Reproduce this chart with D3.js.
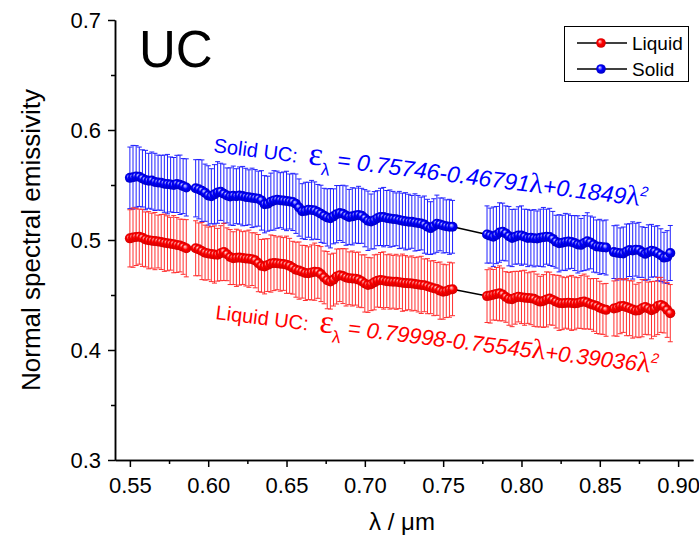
<!DOCTYPE html>
<html><head><meta charset="utf-8">
<script src="https://cdn.jsdelivr.net/npm/d3@7"></script>
<style>body{margin:0;background:#fff}svg{display:block}text{font-family:"Liberation Sans",Arial,sans-serif}</style>
</head><body>
<svg id="c" width="699" height="547"></svg>
<script>
// wavelength (µm), four measurement segments
const wl1 = [0.550,0.552,0.554,0.556,0.558,0.560,0.562,0.564,0.566,0.568,0.570,0.572,0.574,0.576,0.578,0.580,0.582,0.584,0.586];
const wl2 = [0.592,0.594,0.596,0.598,0.600,0.602,0.604,0.606,0.608,0.610,
 0.612,0.614,0.616,0.618,0.620,0.622,0.624,0.626,0.628,0.630,
 0.632,0.634,0.636,0.638,0.640,0.642,0.644,0.646,0.648,0.650,
 0.652,0.654,0.656,0.658,0.660,0.662,0.664,0.666,0.668,0.670,
 0.672,0.674,0.676,0.678,0.680,0.682,0.684,0.686,0.688,0.690,
 0.692,0.694,0.696,0.698,0.700,0.702,0.704,0.706,0.708,0.710,
 0.712,0.714,0.716,0.718,0.720,0.722,0.724,0.726,0.728,0.730,
 0.732,0.734,0.736,0.738,0.740,0.742,0.744,0.746,0.748,0.750,
 0.752,0.754,0.756];
const wl3 = [0.778,0.780,0.782,0.784,0.786,0.788,0.790,0.792,0.794,0.796,
 0.798,0.800,0.802,0.804,0.806,0.808,0.810,0.812,0.814,0.816,
 0.818,0.820,0.822,0.824,0.826,0.828,0.830,0.832,0.834,0.836,
 0.838,0.840,0.842,0.844,0.846,0.848,0.850,0.852,0.854];
const wl4 = [0.859,0.861,0.863,0.865,0.867,0.869,0.871,0.873,0.875,0.877,
 0.879,0.881,0.883,0.885,0.887,0.889,0.891,0.893,0.895];

// Solid UC emissivity
const solid1 = [0.5565,0.5570,0.5578,0.5575,0.5560,0.5545,0.5538,0.5540,0.5528,0.5522,0.5520,0.5512,0.5508,0.5505,0.5500,0.5510,0.5502,0.5490,0.5478];
const solid2 = [0.5470,0.5462,0.5448,0.5430,0.5405,0.5398,0.5415,0.5432,0.5438,0.5420,
 0.5405,0.5396,0.5402,0.5398,0.5404,0.5399,0.5392,0.5388,0.5383,0.5380,
 0.5376,0.5360,0.5325,0.5330,0.5348,0.5360,0.5366,0.5362,0.5358,0.5355,
 0.5350,0.5346,0.5330,0.5295,0.5262,0.5265,0.5275,0.5272,0.5268,0.5255,
 0.5238,0.5220,0.5205,0.5198,0.5215,0.5235,0.5245,0.5238,0.5222,0.5210,
 0.5215,0.5222,0.5228,0.5220,0.5198,0.5175,0.5168,0.5180,0.5198,0.5210,
 0.5208,0.5200,0.5195,0.5192,0.5188,0.5182,0.5176,0.5170,0.5166,0.5165,
 0.5160,0.5155,0.5150,0.5140,0.5120,0.5108,0.5125,0.5148,0.5142,0.5132,
 0.5125,0.5120,0.5120];
const solid3 = [0.5050,0.5040,0.5030,0.5045,0.5068,0.5075,0.5060,0.5035,0.5018,0.5030,
 0.5042,0.5040,0.5030,0.5018,0.5020,0.5016,0.5014,0.5020,0.5026,0.5030,
 0.5028,0.5010,0.4985,0.4970,0.4975,0.4982,0.4986,0.4982,0.4972,0.4960,
 0.4956,0.4972,0.4988,0.4978,0.4958,0.4942,0.4938,0.4935,0.4932];
const solid4 = [0.4890,0.4885,0.4880,0.4878,0.4895,0.4908,0.4905,0.4912,0.4910,0.4890,
 0.4874,0.4888,0.4902,0.4895,0.4880,0.4862,0.4840,0.4845,0.4882];

// Liquid UC emissivity
const liquid1 = [0.5015,0.5022,0.5028,0.5030,0.5020,0.5005,0.4998,0.4994,0.4990,0.4986,0.4982,0.4975,0.4970,0.4966,0.4962,0.4955,0.4950,0.4938,0.4925];
const liquid2 = [0.4925,0.4915,0.4900,0.4885,0.4878,0.4872,0.4868,0.4866,0.4880,0.4892,
 0.4870,0.4845,0.4835,0.4838,0.4840,0.4836,0.4832,0.4830,0.4826,0.4815,
 0.4790,0.4765,0.4760,0.4772,0.4786,0.4790,0.4788,0.4785,0.4782,0.4775,
 0.4765,0.4748,0.4730,0.4722,0.4712,0.4700,0.4698,0.4705,0.4712,0.4710,
 0.4690,0.4660,0.4635,0.4622,0.4640,0.4668,0.4680,0.4672,0.4660,0.4652,
 0.4650,0.4648,0.4640,0.4625,0.4605,0.4592,0.4598,0.4615,0.4630,0.4636,
 0.4632,0.4626,0.4622,0.4620,0.4620,0.4616,0.4612,0.4608,0.4606,0.4605,
 0.4600,0.4596,0.4592,0.4588,0.4580,0.4570,0.4562,0.4555,0.4540,0.4530,
 0.4535,0.4548,0.4552];
const liquid3 = [0.4490,0.4495,0.4502,0.4510,0.4515,0.4505,0.4482,0.4465,0.4462,0.4475,
 0.4485,0.4480,0.4475,0.4472,0.4470,0.4465,0.4450,0.4440,0.4445,0.4460,
 0.4468,0.4455,0.4440,0.4428,0.4425,0.4428,0.4430,0.4428,0.4424,0.4428,
 0.4436,0.4440,0.4432,0.4418,0.4410,0.4400,0.4385,0.4372,0.4365];
const liquid4 = [0.4378,0.4385,0.4398,0.4400,0.4390,0.4380,0.4368,0.4358,0.4362,0.4380,
 0.4392,0.4378,0.4362,0.4375,0.4400,0.4410,0.4395,0.4365,0.4335];

// error bars (±)
const solidErr1 = [0.028,0.029,0.028,0.027,0.026,0.027,0.025,0.026,0.026,0.025,0.025,0.026,0.027,0.025,0.025,0.026,0.027,0.025,0.026];
const solidErr2 = [0.026,0.027,0.028,0.026,0.027,0.025,0.027,0.028,0.026,0.027,
 0.025,0.026,0.027,0.025,0.026,0.027,0.026,0.025,0.027,0.026,
 0.025,0.027,0.026,0.025,0.026,0.027,0.026,0.025,0.026,0.027,
 0.025,0.026,0.027,0.026,0.025,0.026,0.025,0.027,0.026,0.025,
 0.026,0.025,0.026,0.027,0.025,0.026,0.025,0.026,0.027,0.025,
 0.026,0.025,0.026,0.025,0.026,0.027,0.025,0.026,0.025,0.026,
 0.027,0.025,0.026,0.025,0.024,0.026,0.025,0.026,0.025,0.024,
 0.026,0.025,0.024,0.026,0.025,0.024,0.025,0.026,0.024,0.025,
 0.024,0.025,0.024];
const solidErr3 = [0.026,0.025,0.027,0.026,0.027,0.026,0.025,0.027,0.026,0.025,
 0.026,0.027,0.025,0.026,0.025,0.026,0.025,0.026,0.027,0.025,
 0.026,0.025,0.024,0.026,0.025,0.026,0.025,0.024,0.025,0.026,
 0.024,0.025,0.026,0.024,0.025,0.024,0.025,0.024,0.025];
const solidErr4 = [0.024,0.025,0.023,0.024,0.025,0.024,0.026,0.024,0.025,0.023,0.024,0.025,0.024,0.023,0.025,0.024,0.023,0.024,0.025];
const liquidErr1 = [0.026,0.027,0.026,0.025,0.026,0.025,0.026,0.025,0.026,0.024,0.025,0.026,0.025,0.024,0.026,0.025,0.024,0.025,0.026];
const liquidErr2 = [0.025,0.024,0.026,0.025,0.024,0.025,0.026,0.024,0.025,0.026,
 0.024,0.025,0.024,0.026,0.025,0.024,0.025,0.026,0.024,0.025,
 0.026,0.024,0.025,0.024,0.026,0.025,0.024,0.025,0.024,0.026,
 0.025,0.024,0.025,0.026,0.024,0.025,0.024,0.025,0.026,0.024,
 0.025,0.024,0.026,0.025,0.024,0.025,0.024,0.025,0.026,0.024,
 0.025,0.024,0.025,0.024,0.026,0.025,0.024,0.025,0.024,0.025,
 0.026,0.024,0.025,0.024,0.025,0.024,0.026,0.025,0.024,0.025,
 0.024,0.025,0.026,0.024,0.025,0.024,0.025,0.024,0.026,0.025,
 0.024,0.025,0.024];
const liquidErr3 = [0.024,0.025,0.023,0.024,0.025,0.024,0.023,0.024,0.025,0.024,
 0.023,0.024,0.025,0.023,0.024,0.025,0.024,0.023,0.024,0.025,
 0.024,0.023,0.024,0.025,0.024,0.023,0.024,0.025,0.024,0.023,
 0.024,0.025,0.024,0.023,0.024,0.025,0.024,0.023,0.024];
const liquidErr4 = [0.025,0.026,0.025,0.024,0.026,0.025,0.026,0.024,0.025,0.026,0.025,0.024,0.026,0.025,0.026,0.025,0.024,0.025,0.026];

const xMajorTicks = [0.55,0.60,0.65,0.70,0.75,0.80,0.85,0.90];
const xMinorTicks = [0.575,0.625,0.675,0.725,0.775,0.825,0.875];
const yMajorTicks = [0.3,0.4,0.5,0.6,0.7];
const yMinorTicks = [0.35,0.45,0.55,0.65];
const seriesNames = ["Liquid","Solid"];

// ---------- build ----------
const wl = [...wl1,...wl2,...wl3,...wl4];
function pts(v, e){ const vals=[...v[0],...v[1],...v[2],...v[3]]; const errs=[...e[0],...e[1],...e[2],...e[3]];
  const n=Math.min(wl.length, vals.length, errs.length); const out=[];
  for(let i=0;i<n;i++) out.push({x:wl[i], y:vals[i], e:errs[i]}); return out; }
const solidPts = pts([solid1,solid2,solid3,solid4],[solidErr1,solidErr2,solidErr3,solidErr4]);
const liquidPts = pts([liquid1,liquid2,liquid3,liquid4],[liquidErr1,liquidErr2,liquidErr3,liquidErr4]);

const svg = d3.select('#c');
const x = d3.scaleLinear().domain([0.5405,0.9095]).range([115,693]);
const y = d3.scaleLinear().domain([0.3,0.7]).range([460,20]);

const defs = svg.append('defs');
function grad(id, light, base, dark){
  const g = defs.append('radialGradient').attr('id',id).attr('cx','50%').attr('cy','50%').attr('r','55%').attr('fx','35%').attr('fy','32%');
  g.append('stop').attr('offset','0%').attr('stop-color',light);
  g.append('stop').attr('offset','45%').attr('stop-color',base);
  g.append('stop').attr('offset','100%').attr('stop-color',dark);
}
grad('gR','#ffe0e0','#ff0000','#cc0000');
grad('gB','#e0e0ff','#0000ff','#0000bb');

// axes
const fs = 22;
const xa = svg.append('g').attr('transform','translate(0,460)')
  .call(d3.axisBottom(x).tickValues(xMajorTicks).tickFormat(d3.format('.2f')).tickSize(7).tickSizeOuter(0).tickPadding(10));
xa.append('g').call(d3.axisBottom(x).tickValues(xMinorTicks).tickFormat('').tickSize(4).tickSizeOuter(0));
const ya = svg.append('g').attr('transform','translate(115,0)')
  .call(d3.axisLeft(y).tickValues(yMajorTicks).tickFormat(d3.format('.1f')).tickSize(7).tickSizeOuter(0).tickPadding(7));
ya.append('g').call(d3.axisLeft(y).tickValues(yMinorTicks).tickFormat('').tickSize(4).tickSizeOuter(0));
svg.selectAll('.domain').attr('stroke','#000').attr('stroke-width',1.5);
svg.selectAll('.tick line').attr('stroke','#000').attr('stroke-width',1.5);
svg.selectAll('.tick text').attr('fill','#000').style('font-size',fs+'px').style('font-family','"Liberation Sans",Arial,sans-serif');

// axis titles
svg.append('text').attr('transform','translate(40,240) rotate(-90)').attr('text-anchor','middle')
  .style('font-size','26px').text('Normal spectral emissivity');
svg.append('text').attr('x',402).attr('y',530).attr('text-anchor','middle')
  .style('font-size','24px').text('λ / μm');

// UC label
svg.append('text').attr('x',139).attr('y',67).style('font-size','51px').text('UC');

// series
const line = d3.line().x(d=>x(d.x)).y(d=>y(d.y));
function drawSeries(data, barColor){
  const g = svg.append('g');
  g.append('path').datum(data).attr('d',line).attr('fill','none').attr('stroke','#000').attr('stroke-width',1.5);
  const eb = g.append('g').attr('stroke',barColor).attr('stroke-width',1);
  data.forEach(d=>{
    const cx=x(d.x), y1=y(d.y+d.e), y2=y(d.y-d.e);
    eb.append('line').attr('x1',cx).attr('x2',cx).attr('y1',y1).attr('y2',y2);
    eb.append('line').attr('x1',cx-2.5).attr('x2',cx+2.5).attr('y1',y1).attr('y2',y1);
    eb.append('line').attr('x1',cx-2.5).attr('x2',cx+2.5).attr('y1',y2).attr('y2',y2);
  });
  return g;
}
const gs = drawSeries(solidPts,'#2020ff');
const gl = drawSeries(liquidPts,'#ff3030');
function drawMarkers(g, data, gradId){
  g.append('g').selectAll('circle').data(data).join('circle')
   .attr('cx',d=>x(d.x)).attr('cy',d=>y(d.y)).attr('r',5).attr('fill','url(#'+gradId+')');
}
drawMarkers(gs, solidPts, 'gB');
drawMarkers(gl, liquidPts, 'gR');

// annotations
function annotate(tx, ty, ang, color, label, a, b, c, fz){
  const t = svg.append('text').attr('transform',`translate(${tx},${ty}) rotate(${ang})`).attr('fill',color).style('font-size','20px');
  t.append('tspan').text(label + '\u00a0\u00a0');
  t.append('tspan').style('font-family','"Liberation Serif",serif').style('font-size','33px').text('ε');
  t.append('tspan').attr('dy',9).style('font-size','17px').text('λ');
  t.append('tspan').attr('dy',-9).style('font-style','italic').style('font-size',fz+'px').text('\u00a0= ' + a + '-' + b);
  t.append('tspan').style('font-family','"Liberation Serif",serif').style('font-size','28px').text('λ');
  t.append('tspan').style('font-style','italic').style('font-size',fz+'px').text('+' + c);
  t.append('tspan').style('font-family','"Liberation Serif",serif').style('font-size','28px').text('λ');
  t.append('tspan').attr('dy',-10).style('font-style','italic').style('font-size','14px').text('2');
}
annotate(213,152,7.2,'#0000ff','Solid UC:','0.75746','0.46791','0.1849',23);
annotate(215,319,7,'#ff0000','Liquid UC:','0.79998','0.75545','0.39036',22);

// legend
const lg = svg.append('g');
lg.append('rect').attr('x',564.5).attr('y',26.5).attr('width',124).attr('height',55).attr('fill','#fff').attr('stroke','#000').attr('stroke-width',1);
const legItems = [{name:seriesNames[0], grad:'gR', yy:43},{name:seriesNames[1], grad:'gB', yy:69}];
legItems.forEach(it=>{
  lg.append('line').attr('x1',577).attr('x2',627).attr('y1',it.yy).attr('y2',it.yy).attr('stroke','#000').attr('stroke-width',1.5);
  lg.append('circle').attr('cx',601).attr('cy',it.yy).attr('r',4.8).attr('fill','url(#'+it.grad+')');
  lg.append('text').attr('x',632).attr('y',it.yy+7).style('font-size','19px').text(it.name);
});
</script>
</body></html>
